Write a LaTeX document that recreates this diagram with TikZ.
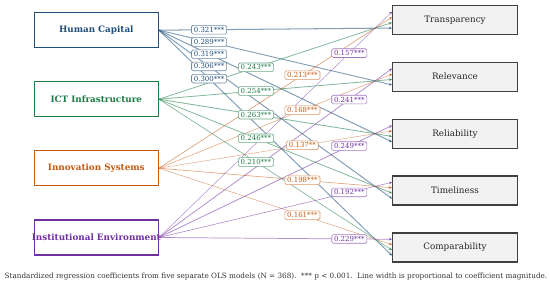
\documentclass[tikz,border=0pt]{standalone}
\usepackage{fontspec}
\setmainfont{DejaVu Serif}
\usetikzlibrary{arrows.meta,calc}
\definecolor{hcC}{HTML}{1F4E79}
\definecolor{ictC}{HTML}{1E7B45}
\definecolor{innC}{HTML}{C55A11}
\definecolor{instC}{HTML}{7030A0}
\definecolor{outFill}{HTML}{F2F2F2}
\definecolor{outDraw}{HTML}{404040}
\tikzset{
  srcbox/.style={draw=#1, line width=1.3pt, fill=white, minimum width=124pt, minimum height=35pt, inner sep=0pt, text=#1, font=\fontsize{8.8}{10}\selectfont\bfseries},
  outbox/.style={draw=outDraw, line width=1.1pt, fill=outFill, minimum width=124.5pt, minimum height=29pt, inner sep=0pt, text=black!85, font=\fontsize{8.8}{10}\selectfont},
  coefline/.style={draw=#1, draw opacity=0.55, -{Stealth[length=3.5pt,width=3pt]}},
  coeflbl/.style={draw=#1!65, fill=white, rounded corners=1.5pt, line width=0.6pt, text=#1, inner xsep=2.3pt, inner ysep=1.7pt, font=\fontsize{7}{8}\selectfont},
}
\begin{document}
\begin{tikzpicture}[x=1pt,y=-1pt]
\useasboundingbox (0,0) rectangle (550,288);
\node[srcbox=hcC] (hc) at (96.3,30.2) {Human Capital};
\node[srcbox=ictC] (ict) at (96.3,99.2) {ICT Infrastructure};
\node[srcbox=innC] (inn) at (96.3,168.2) {Innovation Systems};
\node[srcbox=instC] (inst) at (96.3,237.5) {\makebox[0pt][c]{Institutional Environment}};
\node[outbox] (tr) at (455,19.8) {Transparency};
\node[outbox] (re) at (455,76.7) {Relevance};
\node[outbox] (rl) at (455,133.7) {Reliability};
\node[outbox] (ti) at (455,190.5) {Timeliness};
\node[outbox] (co) at (455,247.5) {Comparability};
% edges: source/target/colour/coef/offset
\foreach \s/\t/\c/\w/\o in {
  hc/tr/hcC/0.321/-8.25, hc/re/hcC/0.289/-8.25, hc/rl/hcC/0.319/-8.25, hc/ti/hcC/0.306/-8.25, hc/co/hcC/0.300/-8.25,
  ict/tr/ictC/0.243/-2.75, ict/re/ictC/0.254/-2.75, ict/rl/ictC/0.263/-2.75, ict/ti/ictC/0.246/-2.75, ict/co/ictC/0.210/-2.75,
  inn/tr/innC/0.213/2.75, inn/re/innC/0.168/2.75, inn/rl/innC/0.137/2.75, inn/ti/innC/0.198/2.75, inn/co/innC/0.161/2.75,
  inst/tr/instC/0.157/8.25, inst/re/instC/0.241/8.25, inst/rl/instC/0.249/8.25, inst/ti/instC/0.192/8.25, inst/co/instC/0.229/8.25}
  \draw[coefline=\c, line width=\w*3.2pt] (\s.east) -- ([yshift=\o pt]\t.west);
% labels
\foreach \s/\t/\c/\p/\o/\txt in {
  hc/tr/hcC/0.215/-8.25/0.321***, hc/re/hcC/0.215/-8.25/0.289***, hc/rl/hcC/0.215/-8.25/0.319***, hc/ti/hcC/0.215/-8.25/0.306***, hc/co/hcC/0.215/-8.25/0.300***,
  ict/tr/ictC/0.416/-2.75/0.243***, ict/re/ictC/0.416/-2.75/0.254***, ict/rl/ictC/0.416/-2.75/0.263***, ict/ti/ictC/0.416/-2.75/0.246***, ict/co/ictC/0.416/-2.75/0.210***,
  inn/tr/innC/0.615/2.75/0.213***, inn/re/innC/0.615/2.75/0.168***, inn/rl/innC/0.615/2.75/0.137**, inn/ti/innC/0.615/2.75/0.198***, inn/co/innC/0.615/2.75/0.161***,
  inst/tr/instC/0.816/8.25/0.157***, inst/re/instC/0.816/8.25/0.241***, inst/rl/instC/0.816/8.25/0.249***, inst/ti/instC/0.816/8.25/0.192***, inst/co/instC/0.816/8.25/0.229***}
  \node[coeflbl=\c] (l-\s-\t) at ($(\s.east)!\p!([yshift=\o pt]\t.west)$) {\txt};
\node[text=black!80, font=\fontsize{7.25}{9}\selectfont, inner sep=0pt] (cap) at (276,277) {Standardized regression coefficients from five separate OLS models (N = 368).\ \ *** p < 0.001.\ \ Line width is proportional to coefficient magnitude.};
\end{tikzpicture}
\end{document}
